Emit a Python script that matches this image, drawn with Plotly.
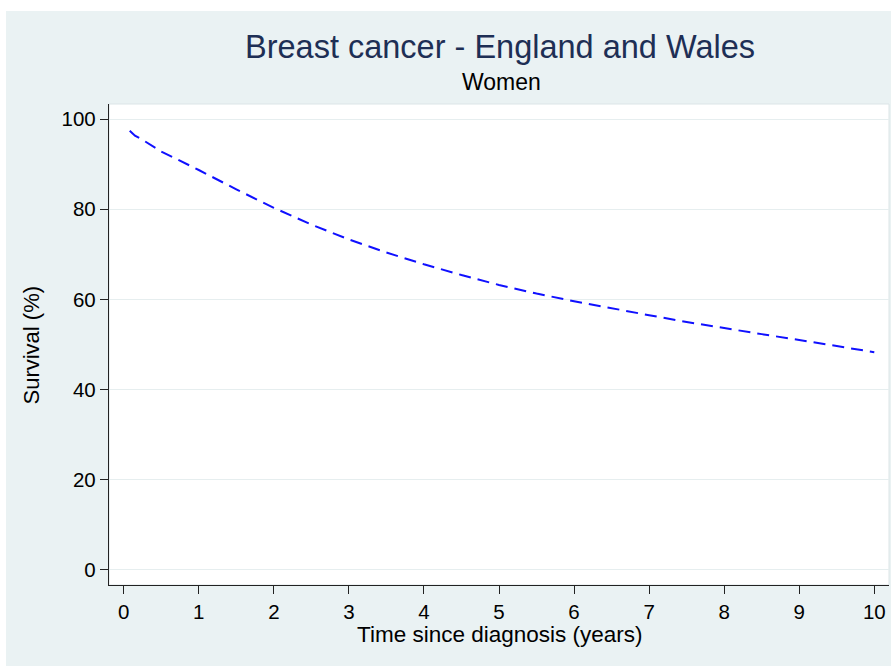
import plotly.graph_objects as go

# Relative survival curve, breast cancer in women, England and Wales
years = [0.08, 0.15, 0.25, 0.5, 1.0, 1.5, 2.0, 2.5, 3.0, 3.5, 4.0, 4.5, 5.0,
         5.5, 6.0, 6.5, 7.0, 7.5, 8.0, 8.5, 9.0, 9.5, 10.0]
survival = [97.4, 96.3, 95.4, 92.8, 88.7, 84.4, 80.3, 76.6, 73.3, 70.4, 67.8,
            65.4, 63.2, 61.3, 59.6, 58.0, 56.5, 55.0, 53.6, 52.3, 51.0, 49.6, 48.3]

x_ticks = list(range(0, 11))
y_ticks = [0, 20, 40, 60, 80, 100]

title_text = "Breast cancer - England and Wales"
subtitle_text = "Women"
x_title = "Time since diagnosis (years)"
y_title = "Survival (%)"

W, H = 891, 666
ML, MR, MT, MB = 109, 2, 104, 81
PW, PH = W - ML - MR, H - MT - MB


def px_x(px):
    return (px - ML) / PW


def px_y(py):
    return (H - MB - py) / PH


REGION = "#EAF2F3"
FONT = "Liberation Sans, Arial, Helvetica, sans-serif"

fig = go.Figure()
fig.add_trace(go.Scatter(
    x=years, y=survival, mode="lines",
    line=dict(color="#1010FF", width=2, dash="12px,7px"),
    hoverinfo="x+y", showlegend=False,
))

axis_common = dict(
    showline=True, linecolor="#222222", linewidth=1.3,
    ticks="outside", ticklen=8, tickwidth=1.2, tickcolor="#222222",
    tickfont=dict(family=FONT, size=20.5, color="#000000"),
    zeroline=False,
)

fig.update_xaxes(
    range=[-0.196, 10.196], tickvals=x_ticks,
    ticktext=[str(v) for v in x_ticks], showgrid=False, **axis_common,
)
fig.update_yaxes(
    range=[-3.33, 103.33], tickvals=y_ticks,
    ticktext=[str(v) for v in y_ticks], showgrid=True,
    gridcolor="#E6EEEF", gridwidth=1, **axis_common,
)

shapes = [
    # white strips framing the graph region
    dict(type="rect", xref="paper", yref="paper", layer="below",
         x0=px_x(0), x1=px_x(W), y0=px_y(0), y1=px_y(11),
         fillcolor="white", line=dict(width=0)),
    dict(type="rect", xref="paper", yref="paper", layer="below",
         x0=px_x(0), x1=px_x(6), y0=px_y(0), y1=px_y(H),
         fillcolor="white", line=dict(width=0)),
    # faint plot region border
    dict(type="rect", xref="paper", yref="paper", layer="below",
         x0=0, x1=1, y0=0, y1=1,
         fillcolor="rgba(0,0,0,0)", line=dict(color="#DCE5E7", width=1)),
]

annotations = [
    dict(text=title_text, xref="paper", yref="paper",
         x=px_x(500), y=px_y(47), xanchor="center", yanchor="middle",
         showarrow=False, font=dict(family=FONT, size=32.5, color="#1E2F55")),
    dict(text=subtitle_text, xref="paper", yref="paper",
         x=px_x(501), y=px_y(82), xanchor="center", yanchor="middle",
         showarrow=False, font=dict(family=FONT, size=23, color="#000000")),
    dict(text=x_title, xref="paper", yref="paper",
         x=px_x(500), y=px_y(634), xanchor="center", yanchor="middle",
         showarrow=False, font=dict(family=FONT, size=22.5, color="#000000")),
    dict(text=y_title, xref="paper", yref="paper", textangle=-90,
         x=px_x(30.5), y=px_y(345), xanchor="center", yanchor="middle",
         showarrow=False, font=dict(family=FONT, size=22, color="#000000")),
]

fig.update_layout(
    width=W, height=H,
    margin=dict(l=ML, r=MR, t=MT, b=MB, pad=0),
    paper_bgcolor=REGION, plot_bgcolor="white",
    shapes=shapes, annotations=annotations,
    showlegend=False,
)

fig.write_html("out.html", config={"displayModeBar": False})
